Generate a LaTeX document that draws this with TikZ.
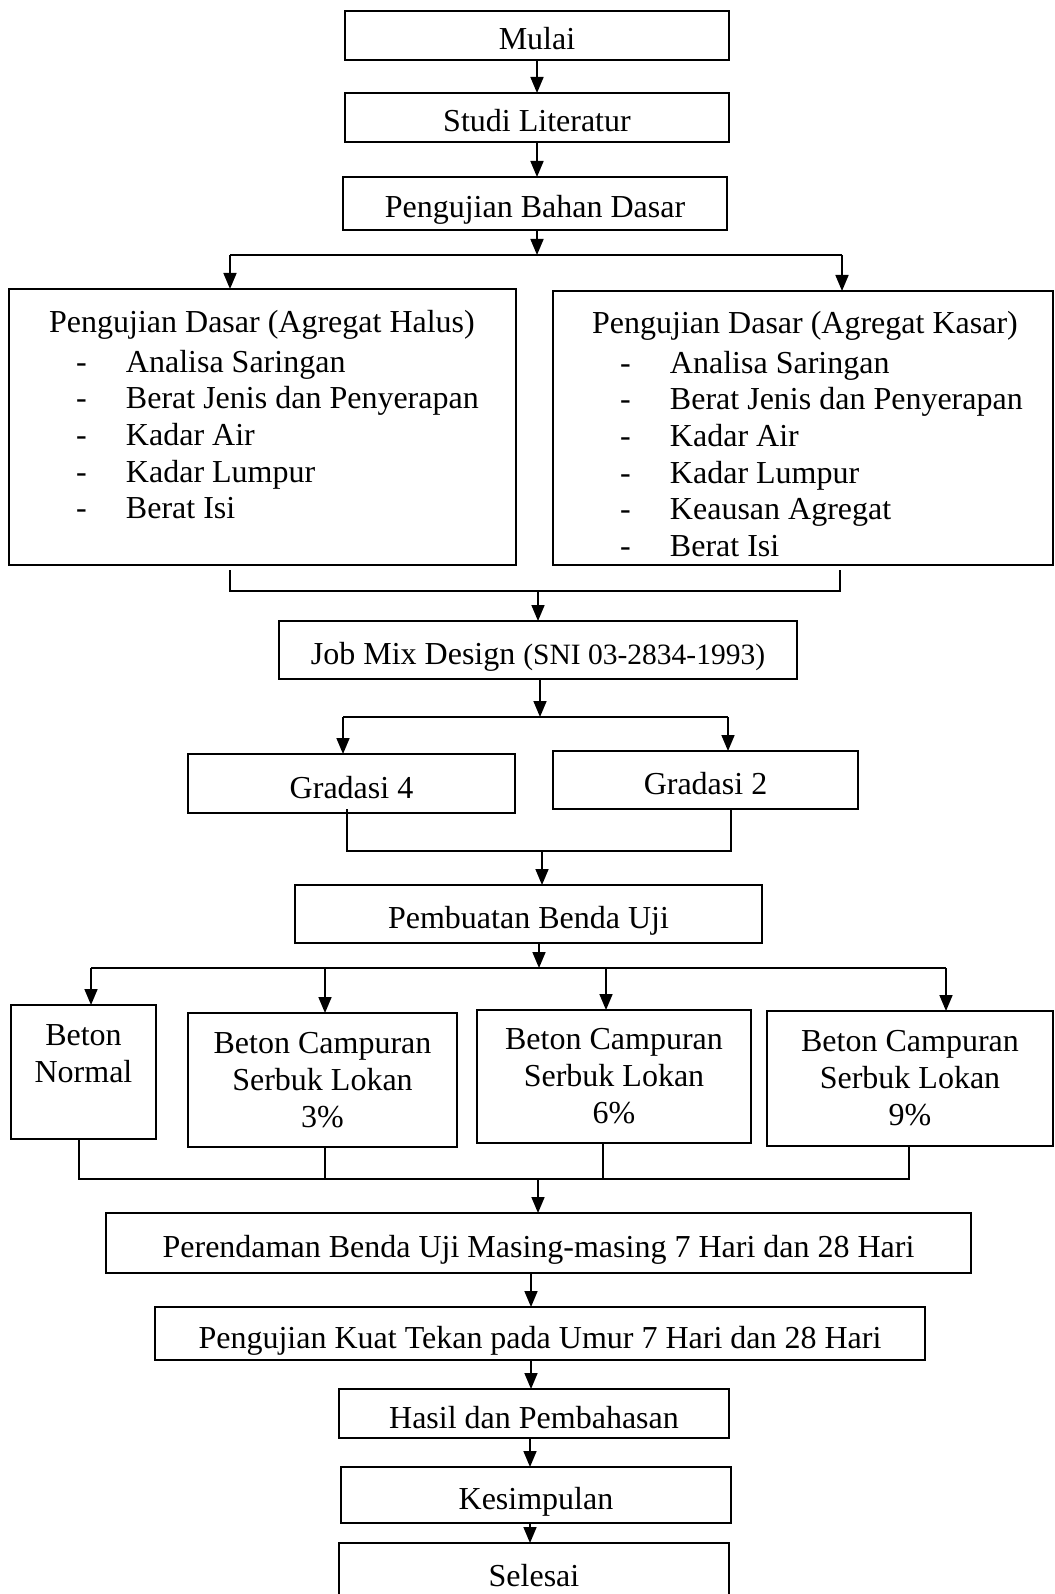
\documentclass[tikz,border=0pt]{standalone}
\usepackage{fontspec}
\setmainfont{Liberation Serif}
\usetikzlibrary{arrows.meta}
\begin{document}
\begin{tikzpicture}[x=1pt,y=-1pt,
  box/.style={draw, line width=1.6pt, inner sep=0pt, outer sep=0pt, align=center,
    font=\fontsize{32}{37}\selectfont},
  one/.style={text height=37pt, text depth=8pt},
  txt/.style={inner sep=0pt, outer sep=0pt, font=\fontsize{32}{36.7}\selectfont},
  ln/.style={line width=1.7pt},
  arr/.style={line width=1.7pt, -{Triangle[length=16pt,width=13pt]}}]
\useasboundingbox (0,0) rectangle (1054,1594);
\fill[white] (0,0) rectangle (1054,1594);

% boxes
\node[box,one,minimum width=384pt,minimum height=49pt] (mulai) at (537,35.5) {Mulai};
\node[box,one,minimum width=384pt,minimum height=49pt] (studi) at (537,117.5) {Studi Literatur};
\node[box,one,minimum width=384pt,minimum height=53pt] (bahan) at (535,203.5) {Pengujian Bahan Dasar};
\node[box,minimum width=507pt,minimum height=276pt] (halus) at (262.5,427) {};
\node[box,minimum width=500pt,minimum height=274pt] (kasar) at (803,428) {};

\node[txt,anchor=base] (halusT) at (262,332) {Pengujian Dasar (Agregat Halus)};
\node[txt,anchor=base west] (halusL) at (76,372) {\begin{tabular}[t]{@{}l@{}}
\makebox[50pt][l]{-}Analisa Saringan\\
\makebox[50pt][l]{-}Berat Jenis dan Penyerapan\\
\makebox[50pt][l]{-}Kadar Air\\
\makebox[50pt][l]{-}Kadar Lumpur\\
\makebox[50pt][l]{-}Berat Isi
\end{tabular}};

\node[txt,anchor=base] (kasarT) at (805,333) {Pengujian Dasar (Agregat Kasar)};
\node[txt,anchor=base west] (kasarL) at (620,373) {\begin{tabular}[t]{@{}l@{}}
\makebox[50pt][l]{-}Analisa Saringan\\
\makebox[50pt][l]{-}Berat Jenis dan Penyerapan\\
\makebox[50pt][l]{-}Kadar Air\\
\makebox[50pt][l]{-}Kadar Lumpur\\
\makebox[50pt][l]{-}Keausan Agregat\\
\makebox[50pt][l]{-}Berat Isi
\end{tabular}};

\node[box,one,minimum width=518pt,minimum height=58pt] (jmd) at (538,650)
  {Job Mix Design {\fontsize{29.5}{34}\selectfont(SNI 03-2834-1993)}};
\node[box,one,minimum width=327pt,minimum height=59pt] (g4) at (351.5,783.5) {Gradasi 4};
\node[box,one,minimum width=305pt,minimum height=58pt] (g2) at (705.5,780) {Gradasi 2};
\node[box,one,minimum width=467pt,minimum height=58pt] (pbu) at (528.5,914) {Pembuatan Benda Uji};

\node[box,minimum width=145pt,minimum height=134pt] (bn) at (83.5,1072) {Beton\\Normal\\\mbox{}};
\node[box,minimum width=269pt,minimum height=134pt] (b3) at (322.5,1080) {Beton Campuran\\Serbuk Lokan\\3\%};
\node[box,minimum width=274pt,minimum height=133pt] (b6) at (614,1076.5) {Beton Campuran\\Serbuk Lokan\\6\%};
\node[box,minimum width=286pt,minimum height=135pt] (b9) at (910,1078.5) {Beton Campuran\\Serbuk Lokan\\9\%};

\node[box,one,minimum width=865pt,minimum height=60pt] (per) at (538.5,1243) {Perendaman Benda Uji Masing-masing 7 Hari dan 28 Hari};
\node[box,one,minimum width=770pt,minimum height=53pt] (kuat) at (540,1333.5) {Pengujian Kuat Tekan pada Umur 7 Hari dan 28 Hari};
\node[box,one,minimum width=390pt,minimum height=49pt] (hasil) at (534,1413.5) {Hasil dan Pembahasan};
\node[box,one,minimum width=390pt,minimum height=56pt] (kes) at (536,1495) {Kesimpulan};
\node[box,one,minimum width=390pt,minimum height=57pt] (sel) at (534,1571.5) {Selesai};

% connectors
\draw[arr] (537,0 |- mulai.south) -- (537,0 |- studi.north);
\draw[arr] (537,0 |- studi.south) -- (537,0 |- bahan.north);

\coordinate (s1) at (537,255);
\coordinate (s1l) at (230,255);
\coordinate (s1r) at (842,255);
\draw[arr] (s1 |- bahan.south) -- (s1);
\draw[ln] (s1l) -- (s1r);
\draw[arr] (s1l) -- (s1l |- halus.north);
\draw[arr] (s1r) -- (s1r |- kasar.north);

\coordinate (m1l) at (230,570);
\coordinate (m1r) at (840,570);
\coordinate (m1) at (538,591);
\draw[ln] (m1l) -- (m1l |- m1) -- (m1r |- m1) -- (m1r);
\draw[arr] (m1) -- (m1 |- jmd.north);

\coordinate (s2) at (540,717);
\coordinate (s2l) at (343,717);
\coordinate (s2r) at (728,717);
\draw[arr] (s2 |- jmd.south) -- (s2);
\draw[ln] (s2l) -- (s2r);
\draw[arr] (s2l) -- (s2l |- g4.north);
\draw[arr] (s2r) -- (s2r |- g2.north);

\coordinate (m2l) at (347,809);
\coordinate (m2r) at (731,809);
\coordinate (m2) at (542,851);
\draw[ln] (m2l) -- (m2l |- m2) -- (m2r |- m2) -- (m2r);
\draw[arr] (m2) -- (m2 |- pbu.north);

\coordinate (s3) at (539,968);
\coordinate (s3a) at (91,968);
\coordinate (s3b) at (325,968);
\coordinate (s3c) at (606,968);
\coordinate (s3d) at (946,968);
\draw[arr] (s3 |- pbu.south) -- (s3);
\draw[ln] (s3a) -- (s3d);
\draw[arr] (s3a) -- (s3a |- bn.north);
\draw[arr] (s3b) -- (s3b |- b3.north);
\draw[arr] (s3c) -- (s3c |- b6.north);
\draw[arr] (s3d) -- (s3d |- b9.north);

\coordinate (m3) at (538,1179);
\coordinate (m3a) at (79,1179);
\coordinate (m3b) at (325,1179);
\coordinate (m3c) at (603,1179);
\coordinate (m3d) at (909,1179);
\draw[ln] (m3a |- bn.south) -- (m3a) -- (m3d) -- (m3d |- b9.south);
\draw[ln] (m3b |- b3.south) -- (m3b);
\draw[ln] (m3c |- b6.south) -- (m3c);
\draw[arr] (m3) -- (m3 |- per.north);

\draw[arr] (531,0 |- per.south) -- (531,0 |- kuat.north);
\draw[arr] (531,0 |- kuat.south) -- (531,0 |- hasil.north);
\draw[arr] (530,0 |- hasil.south) -- (530,0 |- kes.north);
\draw[arr] (530,0 |- kes.south) -- (530,0 |- sel.north);
\end{tikzpicture}
\end{document}
